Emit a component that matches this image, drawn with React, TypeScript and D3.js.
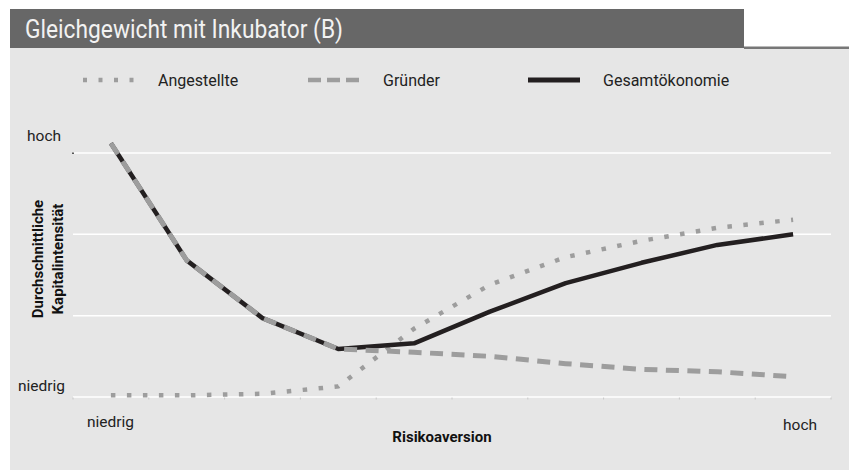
import React from "react";
import * as d3 from "d3";

// Risikoaversion steps (niedrig -> hoch)
const steps = ["1", "2", "3", "4", "5", "6", "7", "8", "9", "10"];

// average capital intensity, 0 = niedrig ... 3 = hoch
const angestellte = [0.02, 0.02, 0.04, 0.13, 0.84, 1.38, 1.72, 1.92, 2.08, 2.18];
const gruender = [3.12, 1.68, 0.97, 0.59, 0.55, 0.5, 0.41, 0.34, 0.31, 0.25];
const gesamt = [3.12, 1.68, 0.97, 0.59, 0.66, 1.05, 1.4, 1.65, 1.87, 2.0];

const gridValues = [0, 1, 2, 3];

const legendItems = [
    { label: "Angestellte", color: "#9d9d9d", width: 4.5, dash: "4 11.5" },
    { label: "Gründer", color: "#9d9d9d", width: 4.5, dash: "13 6" },
    { label: "Gesamtökonomie", color: "#231f20", width: 5, dash: null },
];

const FONT = "Roboto, 'Noto Sans', sans-serif";

export default function App() {
    const width = 849;
    const height = 470;

    const x = d3.scaleBand<string>().domain(steps).range([73, 831]).padding(0);
    const y = d3.scaleLinear().domain([0, 3]).range([397, 153]);

    const cx = (i: number) => (x(steps[i]) as number) + x.bandwidth() / 2;

    const line = d3
        .line<number>()
        .x((_, i) => cx(i))
        .y((d) => y(d));

    const tickXs = steps.map((s) => x(s) as number).concat([831]);

    const legendX = [83, 308, 528];
    const legendTextX = [158, 383, 603];

    return (
        <div style={{ position: "absolute", left: 0, top: 0 }}>
            <svg width={width} height={height} style={{ display: "block" }}>
                {/* panel */}
                <rect x={10} y={48} width={width - 10} height={height - 48} fill="#e6e6e6" />
                <rect x={10} y={9} width={734} height={39} fill="#676767" />
                <rect x={744} y={46.5} width={width - 744} height={2.5} fill="#777" />
                <text
                    x={25}
                    y={38}
                    fontFamily={FONT}
                    fontSize={25}
                    fill="#f2f2f2"
                    textLength={318}
                    lengthAdjust="spacingAndGlyphs"
                >
                    Gleichgewicht mit Inkubator (B)
                </text>

                {/* legend */}
                {legendItems.map((d, i) => (
                    <g key={d.label}>
                        <line
                            x1={legendX[i]}
                            x2={legendX[i] + 52}
                            y1={80}
                            y2={80}
                            stroke={d.color}
                            strokeWidth={d.width}
                            strokeDasharray={d.dash ?? undefined}
                        />
                        <text
                            x={legendTextX[i]}
                            y={86}
                            fontFamily={FONT}
                            fontSize={16}
                            fill="#222"
                        >
                            {d.label}
                        </text>
                    </g>
                ))}

                {/* grid */}
                {gridValues.map((v) => (
                    <line
                        key={v}
                        x1={73}
                        x2={831}
                        y1={y(v)}
                        y2={y(v)}
                        stroke="#fff"
                        strokeWidth={1.5}
                    />
                ))}
                {tickXs.map((t) => (
                    <line key={t} x1={t} x2={t} y1={397.5} y2={399.5} stroke="#c8c8c8" strokeWidth={1} />
                ))}
                <rect x={72} y={y(3) - 0.5} width={2} height={1.5} fill="#555" />

                {/* series */}
                <path
                    d={line(angestellte) ?? ""}
                    fill="none"
                    stroke="#9d9d9d"
                    strokeWidth={4.5}
                    strokeDasharray="4.5 11.5"
                />
                <path
                    d={line(gesamt) ?? ""}
                    fill="none"
                    stroke="#231f20"
                    strokeWidth={4.5}
                    strokeLinejoin="round"
                />
                <path
                    d={line(gruender) ?? ""}
                    fill="none"
                    stroke="#9d9d9d"
                    strokeWidth={5}
                    strokeDasharray="13 8.5"
                />

                {/* y axis labels */}
                <text x={27} y={141} fontFamily={FONT} fontSize={15.5} fill="#222">
                    hoch
                </text>
                <text x={18} y={391} fontFamily={FONT} fontSize={15.5} fill="#222">
                    niedrig
                </text>
                <text
                    transform="translate(43,259) rotate(-90)"
                    textAnchor="middle"
                    fontFamily={FONT}
                    fontSize={15}
                    fontWeight="bold"
                    fill="#111"
                >
                    Durchschnittliche
                </text>
                <text
                    transform="translate(63,259) rotate(-90)"
                    textAnchor="middle"
                    fontFamily={FONT}
                    fontSize={15}
                    fontWeight="bold"
                    fill="#111"
                >
                    Kapitalintensität
                </text>

                {/* x axis labels */}
                <text x={87} y={427} fontFamily={FONT} fontSize={15.5} fill="#222">
                    niedrig
                </text>
                <text x={783} y={430} fontFamily={FONT} fontSize={15.5} fill="#222">
                    hoch
                </text>
                <text
                    x={442}
                    y={442}
                    textAnchor="middle"
                    fontFamily={FONT}
                    fontSize={15}
                    fontWeight="bold"
                    fill="#111"
                >
                    Risikoaversion
                </text>
            </svg>
        </div>
    );
}
